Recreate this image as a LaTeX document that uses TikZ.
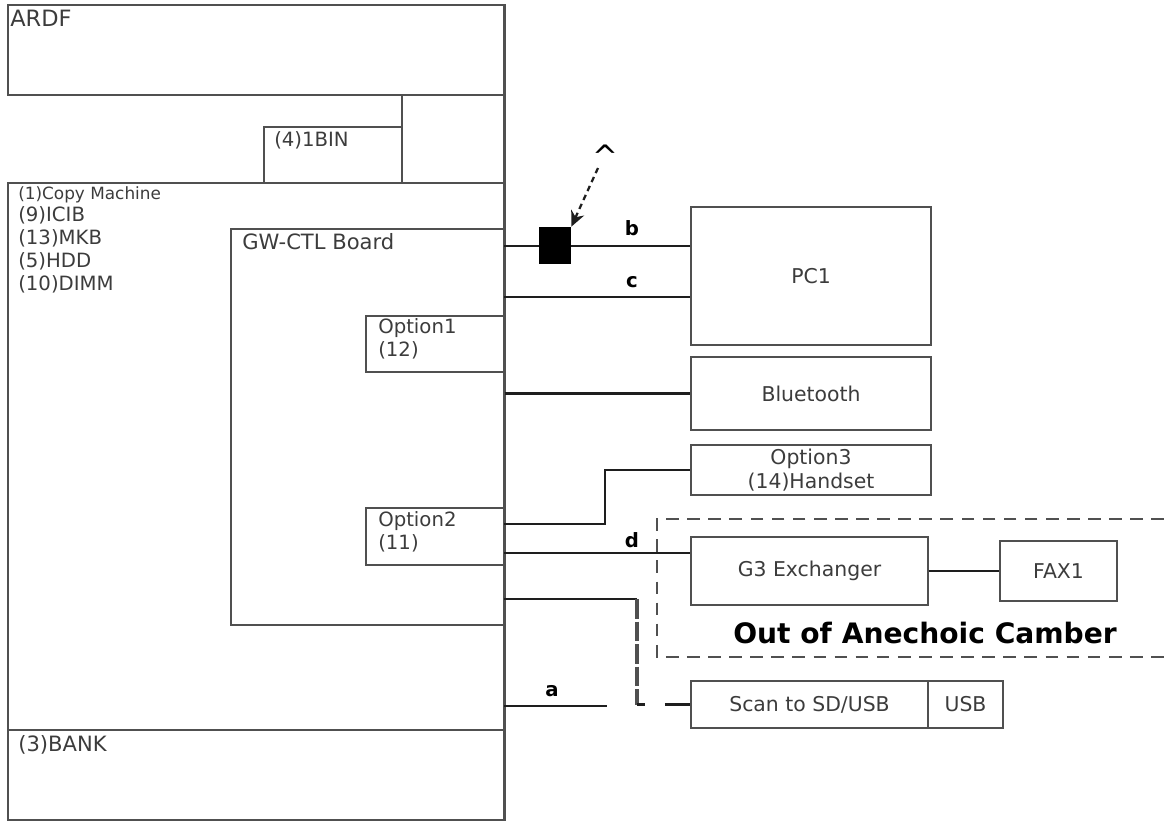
\documentclass[tikz,border=0pt]{standalone}
\usepackage{fontspec}
\setmainfont{DejaVu Sans}
\usetikzlibrary{positioning,arrows.meta,fit}
\definecolor{edgegray}{RGB}{80,80,80}
\definecolor{inkgray}{RGB}{60,60,60}
\definecolor{wireblack}{RGB}{30,30,30}

\begin{document}
\begin{tikzpicture}[x=0.025cm,y=-0.025cm,
    box/.style={draw=edgegray,line width=1pt,inner sep=0pt},
    devbox/.style={box,label={[text=inkgray,align=center,
                font=\fontsize{14.5}{17}\selectfont]center:#1}},
    tag/.style={anchor=north west,inner sep=0pt,align=left,text=inkgray,
                font=\fontsize{14}{16.2}\selectfont},
    wire/.style={draw=wireblack,line width=1.6pt},
    portlbl/.style={font=\bfseries\fontsize{14}{16}\selectfont,inner sep=0pt},
    zone/.style={draw=edgegray,line width=1.8pt,dash pattern=on 9pt off 6pt}]
  \useasboundingbox (0,0) rectangle (1164,823);

  % machine side
  \node[box,fit={(8,5) (504,95)}] (ardf) {};
  \node[box,fit={(402,95) (504,183)}] (tray) {};
  \node[box,fit={(264,127) (402,183)}] (bin) {};
  \node[box,fit={(8,183) (504,730)}] (copier) {};
  \node[box,fit={(8,730) (504,820)}] (bank) {};
  \node[box,fit={(231,229) (504,625)}] (gwctl) {};
  \node[box,fit={(366,316) (504,372)}] (opt1) {};
  \node[box,fit={(366,508) (504,565)}] (opt2) {};
  \draw[edgegray,line width=1.8pt] (ardf.north east) -- (bank.south east);

  \node[tag,font=\fontsize{16}{18}\selectfont] (ardftxt) at (10,10) {ARDF};
  \node[tag] (bintxt) at (274,131) {(4)1BIN};
  \node[tag] (copytxt) at (18,186)
    {{\fontsize{12}{16.2}\selectfont(1)Copy Machine}\\(9)ICIB\\(13)MKB\\(5)HDD\\(10)DIMM};
  \node[tag,font=\fontsize{15}{17}\selectfont] (gwtxt) at (242,233) {GW-CTL Board};
  \node[tag] (opt1txt) at (378,318) {Option1\\(12)};
  \node[tag] (opt2txt) at (378,511) {Option2\\(11)};
  \node[tag,font=\fontsize{15}{17}\selectfont] (banktxt) at (18,735) {(3)BANK};

  % connected devices
  \node[devbox=PC1,fit={(691,207) (931,345)}] (pc) {};
  \node[devbox=Bluetooth,fit={(691,357) (931,430)}] (bt) {};
  \node[devbox={Option3\\(14)Handset},fit={(691,445) (931,495)}] (opt3) {};
  \node[devbox=G3 Exchanger,fit={(691,537) (928,605)}] (g3) {};
  \node[devbox=FAX1,fit={(1000,541) (1117,601)}] (fax) {};
  \node[devbox=Scan to SD/USB,fit={(691,681) (928,728)}] (scan) {};
  \node[devbox=USB,fit={(928,681) (1003,728)}] (usb) {};

  \draw[zone] (1164,519) -- (657,519) -- (657,657) -- (1164,657);
  \node[font=\bfseries\fontsize{20}{22}\selectfont,text=black] (zonetxt)
    at (925,633) {Out of Anechoic Camber};

  % ports on the copier edge
  \coordinate (bport) at (504,246);
  \coordinate (cport) at (504,297);
  \coordinate (hport) at (504,524);
  \coordinate (dport) at (504,553);
  \coordinate (sport) at (504,599);
  \coordinate (aport) at (504,706);

  \draw[wire] (bport) -- (bport -| pc.west);
  \draw[wire] (cport) -- (cport -| pc.west);
  \draw[wire] (bt.west -| copier.east) -- (bt.west);
  \draw[wire] (hport) -- ++(101,0) coordinate (hbend) |- (opt3.west);
  \draw[wire] (dport) -- (dport -| g3.west);
  \draw[wire] (g3.east) -- (fax.west);
  \draw[wire] (sport) -- ++(133,0) coordinate (sbend);
  \draw[edgegray,line width=2.6pt,dash pattern=on 14pt off 2pt] (sbend) -- (sbend |- scan.west);
  \draw[wire] (sbend |- scan.west) -- ++(8,0);
  \draw[wire] ([xshift=-18]scan.west) -- (scan.west);
  \draw[wire] (aport) -- ++(103,0) coordinate (aend);

  \node[fill=black,inner sep=0pt,fit={(539,227) (571,264)}] (plug) {};
  \node[font=\fontsize{22}{24}\selectfont,inner sep=0pt] (mark) at (605,156) {\textasciicircum};
  \coordinate (tail) at (598,168);
  \draw[wire,dash pattern=on 4pt off 3pt,-{Stealth[length=11pt,width=10pt]}] (tail) -- (plug.north east);

  \node[portlbl] (blbl) at (632,228) {b};
  \node[portlbl] (clbl) at (632,282) {c};
  \node[portlbl] (dlbl) at (632,540) {d};
  \node[portlbl] (albl) at (552,691) {a};
\end{tikzpicture}
\end{document}
